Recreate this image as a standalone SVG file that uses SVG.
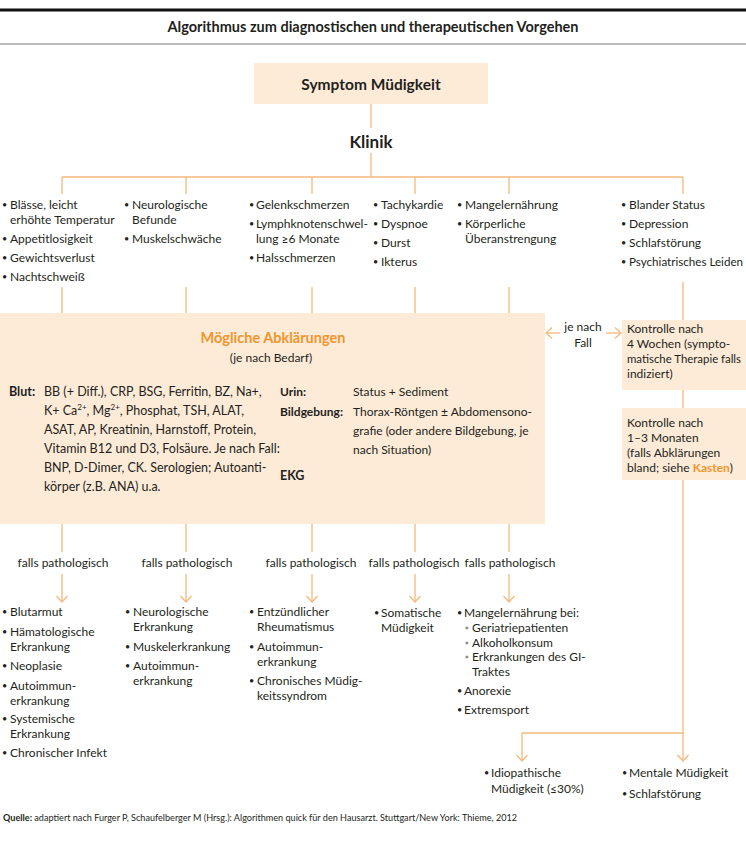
<svg xmlns="http://www.w3.org/2000/svg" width="746" height="848" viewBox="0 0 746 848">
<style>
text{font-family:Lato,"Liberation Sans",sans-serif;fill:#231f20;font-size:12px}
.b{font-weight:bold}
.c{text-anchor:middle}
.o{fill:#f0962e}
.bl{font-size:9px}
.sm{font-size:8px}
.lg{font-size:12.5px}
.ln{stroke:#f4b97c;stroke-width:1.3;fill:none}
.box{fill:#fdebd8}
.ft{font-size:9.1px}
</style>
<defs>
<marker id="ah" viewBox="0 0 12 12" refX="11" refY="6" markerWidth="12" markerHeight="12" markerUnits="userSpaceOnUse" orient="auto">
<path d="M5,0.5 L11,6 L5,11.5" fill="none" stroke="#f4b97c" stroke-width="1.3"/>
</marker>
</defs>
<rect width="746" height="848" fill="#fff"/>
<g id="header">
<line x1="0" y1="10" x2="746" y2="10" stroke="#111" stroke-width="3"/>
<text class="b c" x="373" y="32" style="font-size:14.5px">Algorithmus zum diagnostischen und therapeutischen Vorgehen</text>
<line x1="0" y1="44" x2="746" y2="44" stroke="#777" stroke-width="1"/>
</g>
<g id="connectors">
<path class="ln" d="M371,104V128M371,153V177M62,177H683M62,177V194M186,177V194M312,177V194M415,177V194M509,177V194M683,177V194"/>
<path class="ln" d="M62,287V313M186,287V313M312,287V313M415,287V313M509,287V313M683,282V320M683,390V408M683,480V733H522"/>
<path class="ln" d="M560,333H546" marker-end="url(#ah)"/>
<path class="ln" d="M606,333H621" marker-end="url(#ah)"/>
<path class="ln" d="M62,524V552M186,524V552M312,524V552M415,524V552M509,524V552"/>
<path class="ln" d="M62,574V602" marker-end="url(#ah)"/>
<path class="ln" d="M186,574V602" marker-end="url(#ah)"/>
<path class="ln" d="M312,574V602" marker-end="url(#ah)"/>
<path class="ln" d="M415,574V602" marker-end="url(#ah)"/>
<path class="ln" d="M509,574V602" marker-end="url(#ah)"/>
<path class="ln" d="M522,733V761" marker-end="url(#ah)"/>
<path class="ln" d="M683,733V761" marker-end="url(#ah)"/>
</g>
<g id="symptom">
<rect class="box" x="254" y="63" width="234" height="41"/>
<text class="b c" x="371" y="90" style="font-size:15.5px">Symptom Müdigkeit</text>
</g>
<g id="klinik">
<text class="b c" x="371" y="148" style="font-size:17px">Klinik</text>
</g>
<g id="col1">
<text class="bl" x="2" y="208">•</text><text x="10" y="209">Blässe, leicht</text><text x="10" y="224">erhöhte Temperatur</text>
<text class="bl" x="2" y="242">•</text><text x="10" y="243">Appetitlosigkeit</text>
<text class="bl" x="2" y="261">•</text><text x="10" y="262">Gewichtsverlust</text>
<text class="bl" x="2" y="280">•</text><text x="10" y="281">Nachtschweiß</text>
</g>
<g id="col2">
<text class="bl" x="124" y="208">•</text><text x="132" y="209">Neurologische</text><text x="132" y="224">Befunde</text>
<text class="bl" x="124" y="242">•</text><text x="132" y="243">Muskelschwäche</text>
</g>
<g id="col3">
<text class="bl" x="249" y="208">•</text><text x="256" y="209">Gelenkschmerzen</text>
<text class="bl" x="249" y="227">•</text><text x="256" y="228">Lymphknotenschwel-</text><text x="256" y="243">lung ≥6 Monate</text>
<text class="bl" x="249" y="261">•</text><text x="256" y="262">Halsschmerzen</text>
</g>
<g id="col4">
<text class="bl" x="373" y="208">•</text><text x="381" y="209">Tachykardie</text>
<text class="bl" x="373" y="227">•</text><text x="381" y="228">Dyspnoe</text>
<text class="bl" x="373" y="246">•</text><text x="381" y="247">Durst</text>
<text class="bl" x="373" y="265">•</text><text x="381" y="266">Ikterus</text>
</g>
<g id="col5">
<text class="bl" x="457" y="208">•</text><text x="465" y="209">Mangelernährung</text>
<text class="bl" x="457" y="227">•</text><text x="465" y="228">Körperliche</text><text x="465" y="243">Überanstrengung</text>
</g>
<g id="col6">
<text class="bl" x="621" y="208">•</text><text x="629" y="209">Blander Status</text>
<text class="bl" x="621" y="227">•</text><text x="629" y="228">Depression</text>
<text class="bl" x="621" y="246">•</text><text x="629" y="247">Schlafstörung</text>
<text class="bl" x="621" y="265">•</text><text x="629" y="266" textLength="114" lengthAdjust="spacingAndGlyphs">Psychiatrisches Leiden</text>
</g>
<g id="abklaerungen">
<rect class="box" x="0" y="313" width="545" height="211"/>
<text class="b c o" x="273" y="343" style="font-size:14.5px">Mögliche Abklärungen</text>
<text class="c" x="271" y="362">(je nach Bedarf)</text>
<text class="b lg" x="9" y="396">Blut:</text>
<text class="lg" x="44" y="396">BB (+ Diff.), CRP, BSG, Ferritin, BZ, Na+,</text>
<text class="lg" x="44" y="415">K+ Ca<tspan class="sm" dy="-5">2+</tspan><tspan dy="5">, Mg</tspan><tspan class="sm" dy="-5">2+</tspan><tspan dy="5">, Phosphat, TSH, ALAT,</tspan></text>
<text class="lg" x="44" y="434">ASAT, AP, Kreatinin, Harnstoff, Protein,</text>
<text class="lg" x="44" y="453">Vitamin B12 und D3, Folsäure. Je nach Fall:</text>
<text class="lg" x="44" y="472">BNP, D-Dimer, CK. Serologien; Autoanti-</text>
<text class="lg" x="44" y="491">körper (z.B. ANA) u.a.</text>
<text class="b" x="280" y="396">Urin:</text>
<text x="353" y="396">Status + Sediment</text>
<text class="b" x="280" y="416">Bildgebung:</text>
<text x="353" y="416">Thorax-Röntgen ± Abdomensono-</text>
<text x="353" y="435">grafie (oder andere Bildgebung, je</text>
<text x="353" y="454">nach Situation)</text>
<text class="b lg" x="280" y="480">EKG</text>
</g>
<g id="je-nach-fall">
<text class="c" x="583" y="331">je nach</text>
<text class="c" x="583" y="347">Fall</text>
</g>
<g id="kontrolle4">
<rect class="box" x="622" y="320" width="124" height="70"/>
<text x="627" y="333">Kontrolle nach</text>
<text x="627" y="348">4 Wochen (sympto-</text>
<text x="627" y="363" textLength="114" lengthAdjust="spacingAndGlyphs">matische Therapie falls</text>
<text x="627" y="378">indiziert)</text>
</g>
<g id="kontrolle13">
<rect class="box" x="622" y="408" width="124" height="72"/>
<text x="627" y="427">Kontrolle nach</text>
<text x="627" y="442">1–3 Monaten</text>
<text x="627" y="457">(falls Abklärungen</text>
<text x="627" y="472">bland; siehe <tspan class="b o">Kasten</tspan>)</text>
</g>
<g id="labels">
<text class="c" x="63" y="567">falls pathologisch</text>
<text class="c" x="187" y="567">falls pathologisch</text>
<text class="c" x="311" y="567">falls pathologisch</text>
<text class="c" x="414" y="567">falls pathologisch</text>
<text class="c" x="510" y="567">falls pathologisch</text>
</g>
<g id="res1">
<text class="bl" x="2" y="615">•</text><text x="10" y="616">Blutarmut</text>
<text class="bl" x="2" y="635">•</text><text x="10" y="636">Hämatologische</text><text x="10" y="651">Erkrankung</text>
<text class="bl" x="2" y="669">•</text><text x="10" y="670">Neoplasie</text>
<text class="bl" x="2" y="689">•</text><text x="10" y="690">Autoimmun-</text><text x="10" y="705">erkrankung</text>
<text class="bl" x="2" y="722">•</text><text x="10" y="723">Systemische</text><text x="10" y="738">Erkrankung</text>
<text class="bl" x="2" y="756">•</text><text x="10" y="757">Chronischer Infekt</text>
</g>
<g id="res2">
<text class="bl" x="125" y="615">•</text><text x="133" y="616">Neurologische</text><text x="133" y="631">Erkrankung</text>
<text class="bl" x="125" y="650">•</text><text x="133" y="651">Muskelerkrankung</text>
<text class="bl" x="125" y="669">•</text><text x="133" y="670">Autoimmun-</text><text x="133" y="685">erkrankung</text>
</g>
<g id="res3">
<text class="bl" x="249" y="615">•</text><text x="257" y="616">Entzündlicher</text><text x="257" y="631">Rheumatismus</text>
<text class="bl" x="249" y="650">•</text><text x="257" y="651">Autoimmun-</text><text x="257" y="666">erkrankung</text>
<text class="bl" x="249" y="684">•</text><text x="257" y="685">Chronisches Müdig-</text><text x="257" y="700">keitssyndrom</text>
</g>
<g id="res4">
<text class="bl" x="374" y="616">•</text><text x="381" y="617">Somatische</text><text x="381" y="632">Müdigkeit</text>
</g>
<g id="res5">
<text class="bl" x="457" y="616">•</text><text x="464" y="617">Mangelernährung bei:</text>
<text class="bl" x="465" y="631" style="fill:#888">▪</text><text x="472" y="632">Geriatriepatienten</text>
<text class="bl" x="465" y="646" style="fill:#888">▪</text><text x="472" y="647">Alkoholkonsum</text>
<text class="bl" x="465" y="660" style="fill:#888">▪</text><text x="472" y="661">Erkrankungen des GI-</text><text x="472" y="676">Traktes</text>
<text class="bl" x="457" y="694">•</text><text x="464" y="695">Anorexie</text>
<text class="bl" x="457" y="713">•</text><text x="464" y="714">Extremsport</text>
</g>
<g id="idiopathisch">
<text class="bl" x="484" y="776">•</text><text x="491" y="777">Idiopathische</text><text x="491" y="793">Müdigkeit (≤30%)</text>
</g>
<g id="mental">
<text class="bl" x="622" y="776">•</text><text x="629" y="777">Mentale Müdigkeit</text>
<text class="bl" x="622" y="797">•</text><text x="629" y="798">Schlafstörung</text>
</g>
<g id="footer">
<text class="ft" x="3" y="821"><tspan class="b">Quelle:</tspan> adaptiert nach Furger P, Schaufelberger M (Hrsg.): Algorithmen quick für den Hausarzt. Stuttgart/New York: Thieme, 2012</text>
</g>
</svg>
